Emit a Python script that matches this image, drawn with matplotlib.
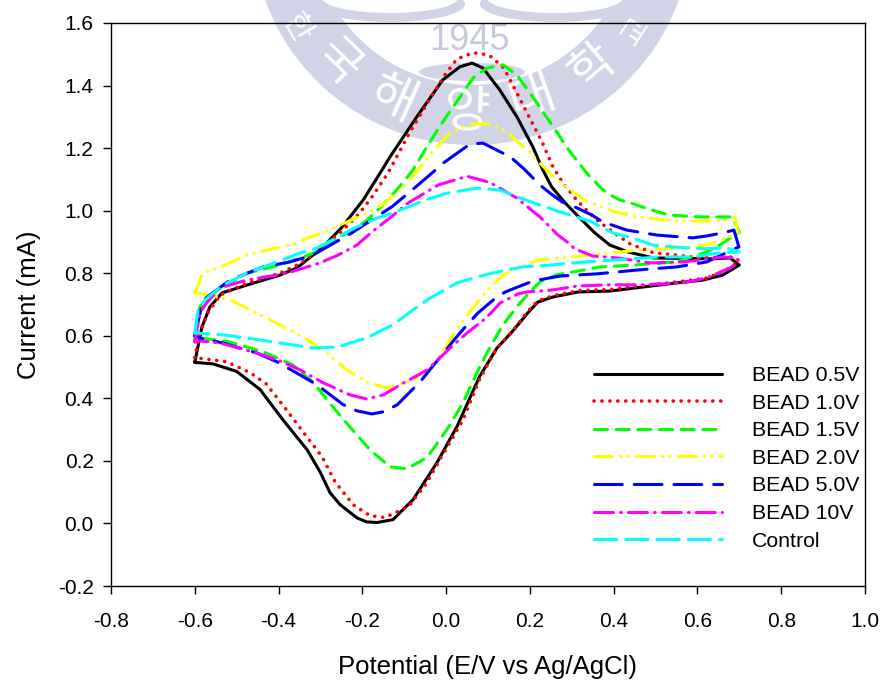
import numpy as np
import matplotlib.pyplot as plt
from matplotlib.patches import Circle, Ellipse

plt.rcParams["font.family"] = ["Liberation Sans", "DejaVu Sans"]
plt.rcParams["lines.scale_dashes"] = False

# Cyclic voltammograms, forward branch then return branch
bead_05_x = [-0.6, -0.583, -0.564, -0.535, -0.476, -0.397, -0.356, -0.294, -0.25, -0.198, -0.153, -0.134, -0.07, -0.008, 0.033, 0.062, 0.088, 0.128, 0.169, 0.207, 0.231, 0.252, 0.284, 0.319, 0.355, 0.391, 0.434, 0.494, 0.63, 0.678, 0.7,
             0.66, 0.613, 0.55, 0.47, 0.391, 0.315, 0.255, 0.219, 0.195, 0.157, 0.121, 0.08, 0.026, -0.022, -0.079, -0.127, -0.165, -0.19, -0.213, -0.253, -0.277, -0.301, -0.332, -0.39, -0.444, -0.5, -0.556, -0.6]
bead_05_y = [0.515, 0.628, 0.692, 0.737, 0.762, 0.794, 0.817, 0.884, 0.945, 1.034, 1.13, 1.172, 1.30, 1.418, 1.46, 1.472, 1.456, 1.386, 1.30, 1.204, 1.13, 1.076, 1.025, 0.977, 0.929, 0.89, 0.868, 0.849, 0.846, 0.849, 0.826,
             0.794, 0.778, 0.769, 0.756, 0.743, 0.74, 0.724, 0.708, 0.673, 0.612, 0.56, 0.47, 0.31, 0.194, 0.076, 0.012, 0.003, 0.005, 0.018, 0.06, 0.098, 0.165, 0.236, 0.332, 0.428, 0.486, 0.51, 0.515]

bead_10_x = [-0.6, -0.59, -0.57, -0.54, -0.476, -0.397, -0.356, -0.318, -0.246, -0.208, -0.177, -0.15, -0.139, -0.086, -0.05, -0.003, 0.026, 0.064, 0.102, 0.138, 0.169, 0.198, 0.229, 0.255, 0.279, 0.31, 0.327, 0.363, 0.401, 0.439, 0.458, 0.496, 0.55, 0.606, 0.684, 0.7,
             0.678, 0.625, 0.55, 0.47, 0.391, 0.315, 0.255, 0.219, 0.195, 0.157, 0.121, 0.08, 0.04, -0.015, -0.046, -0.09, -0.146, -0.182, -0.222, -0.265, -0.296, -0.34, -0.385, -0.43, -0.468, -0.524, -0.6]
bead_10_y = [0.53, 0.6, 0.67, 0.73, 0.768, 0.80, 0.826, 0.858, 0.938, 0.99, 1.044, 1.098, 1.12, 1.252, 1.332, 1.434, 1.485, 1.505, 1.498, 1.456, 1.376, 1.30, 1.22, 1.14, 1.088, 1.037, 1.012, 0.967, 0.929, 0.894, 0.884, 0.865, 0.858, 0.849, 0.852, 0.84,
             0.817, 0.785, 0.772, 0.76, 0.748, 0.744, 0.728, 0.712, 0.678, 0.612, 0.56, 0.462, 0.33, 0.204, 0.13, 0.054, 0.019, 0.025, 0.06, 0.133, 0.213, 0.29, 0.37, 0.447, 0.482, 0.517, 0.53]

bead_15_x = [-0.6, -0.588, -0.556, -0.476, -0.397, -0.308, -0.194, -0.163, -0.118, -0.079, -0.046, -0.01, 0.033, 0.064, 0.098, 0.136, 0.169, 0.207, 0.248, 0.296, 0.336, 0.367, 0.384, 0.415, 0.434, 0.468, 0.506, 0.533, 0.606, 0.684, 0.7,
             0.653, 0.622, 0.55, 0.446, 0.367, 0.303, 0.264, 0.224, 0.2, 0.172, 0.136, 0.105, 0.08, 0.04, 0.002, -0.046, -0.094, -0.134, -0.182, -0.23, -0.27, -0.318, -0.366, -0.437, -0.516, -0.6]
bead_15_y = [0.59, 0.692, 0.737, 0.8, 0.826, 0.868, 0.964, 1.002, 1.066, 1.13, 1.204, 1.28, 1.363, 1.424, 1.456, 1.466, 1.434, 1.363, 1.283, 1.188, 1.12, 1.076, 1.056, 1.034, 1.028, 1.012, 0.996, 0.986, 0.98, 0.98, 0.932,
             0.89, 0.868, 0.836, 0.826, 0.82, 0.804, 0.795, 0.772, 0.74, 0.698, 0.635, 0.564, 0.5, 0.385, 0.3, 0.21, 0.175, 0.181, 0.236, 0.309, 0.372, 0.452, 0.507, 0.549, 0.58, 0.596]

bead_20_x = [-0.6, -0.583, -0.568, -0.528, -0.476, -0.428, -0.365, -0.33, -0.285, -0.249, -0.186, -0.146, -0.115, -0.086, -0.039, 0.009, 0.057, 0.105, 0.145, 0.2, 0.24, 0.26, 0.303, 0.338, 0.36, 0.403, 0.458, 0.503, 0.565, 0.622, 0.67, 0.689, 0.697,
             0.684, 0.66, 0.622, 0.565, 0.47, 0.391, 0.296, 0.219, 0.141, 0.105, 0.069, 0.038, 0.009, -0.031, -0.079, -0.139, -0.19, -0.237, -0.285, -0.337, -0.397, -0.452, -0.516, -0.568, -0.6]
bead_20_y = [0.737, 0.794, 0.807, 0.826, 0.858, 0.874, 0.893, 0.913, 0.935, 0.957, 0.993, 1.025, 1.06, 1.098, 1.178, 1.248, 1.277, 1.277, 1.252, 1.185, 1.13, 1.104, 1.06, 1.028, 1.018, 0.996, 0.98, 0.973, 0.967, 0.967, 0.97, 0.98, 0.932,
             0.922, 0.906, 0.89, 0.881, 0.875, 0.865, 0.852, 0.842, 0.798, 0.756, 0.698, 0.644, 0.586, 0.5, 0.459, 0.433, 0.452, 0.491, 0.545, 0.593, 0.635, 0.673, 0.715, 0.73, 0.737]

bead_50_x = [-0.6, -0.58, -0.516, -0.437, -0.373, -0.318, -0.225, -0.13, -0.09, -0.034, -0.007, 0.057, 0.088, 0.153, 0.184, 0.224, 0.248, 0.277, 0.312, 0.348, 0.374, 0.431, 0.503, 0.589, 0.622, 0.66, 0.687, 0.699,
             0.622, 0.55, 0.463, 0.36, 0.272, 0.207, 0.141, 0.112, 0.076, 0.05, 0.021, -0.062, -0.117, -0.15, -0.177, -0.213, -0.246, -0.308, -0.349, -0.404, -0.452, -0.533, -0.588, -0.6]
bead_50_y = [0.6, 0.714, 0.778, 0.82, 0.836, 0.858, 0.929, 1.012, 1.056, 1.12, 1.152, 1.213, 1.216, 1.172, 1.136, 1.082, 1.056, 1.028, 1.009, 0.986, 0.964, 0.938, 0.922, 0.913, 0.919, 0.929, 0.938, 0.884,
             0.836, 0.82, 0.811, 0.798, 0.791, 0.775, 0.74, 0.714, 0.673, 0.635, 0.59, 0.453, 0.379, 0.357, 0.35, 0.36, 0.38, 0.443, 0.475, 0.517, 0.545, 0.577, 0.593, 0.6]

bead_100_x = [-0.6, -0.588, -0.572, -0.54, -0.476, -0.38, -0.301, -0.258, -0.213, -0.177, -0.134, -0.09, -0.019, 0.05, 0.105, 0.169, 0.224, 0.267, 0.289, 0.307, 0.35, 0.408, 0.487, 0.565, 0.606, 0.66, 0.694, 0.697,
              0.678, 0.622, 0.565, 0.47, 0.391, 0.312, 0.253, 0.193, 0.172, 0.129, 0.112, 0.093, 0.05, 0.009, -0.046, -0.11, -0.15, -0.19, -0.229, -0.294, -0.349, -0.397, -0.452, -0.54, -0.6]
bead_100_y = [0.58, 0.673, 0.705, 0.753, 0.778, 0.8, 0.833, 0.858, 0.89, 0.932, 0.977, 1.025, 1.082, 1.11, 1.09, 1.04, 0.98, 0.922, 0.9, 0.878, 0.855, 0.849, 0.833, 0.836, 0.842, 0.852, 0.849, 0.836,
              0.817, 0.785, 0.769, 0.763, 0.763, 0.759, 0.746, 0.74, 0.734, 0.705, 0.68, 0.654, 0.609, 0.56, 0.49, 0.443, 0.411, 0.398, 0.411, 0.45, 0.491, 0.52, 0.545, 0.577, 0.585]

control_x = [-0.6, -0.592, -0.575, -0.533, -0.476, -0.404, -0.356, -0.308, -0.285, -0.218, -0.163, -0.141, -0.09, -0.05, 0.002, 0.074, 0.128, 0.19, 0.224, 0.272, 0.296, 0.348, 0.398, 0.444, 0.494, 0.541, 0.613, 0.67, 0.7,
             0.653, 0.589, 0.51, 0.375, 0.303, 0.248, 0.181, 0.109, 0.074, 0.026, -0.039, -0.079, -0.127, -0.19, -0.26, -0.318, -0.397, -0.476, -0.533, -0.6]
control_y = [0.609, 0.683, 0.715, 0.762, 0.8, 0.836, 0.861, 0.881, 0.897, 0.945, 0.977, 0.986, 1.012, 1.034, 1.056, 1.072, 1.066, 1.034, 1.018, 0.996, 0.986, 0.964, 0.929, 0.913, 0.89, 0.884, 0.878, 0.881, 0.868,
             0.865, 0.852, 0.852, 0.84, 0.833, 0.826, 0.82, 0.8, 0.788, 0.769, 0.72, 0.683, 0.635, 0.593, 0.564, 0.561, 0.577, 0.593, 0.603, 0.609]

labels = ["BEAD 0.5V", "BEAD 1.0V", "BEAD 1.5V", "BEAD 2.0V", "BEAD 5.0V", "BEAD 10V", "Control"]
colors = ["black", "red", "#00ff00", "#ffff00", "#0000ff", "#ff00ff", "#00ffff"]
xs = [bead_05_x, bead_10_x, bead_15_x, bead_20_x, bead_50_x, bead_100_x, control_x]
ys = [bead_05_y, bead_10_y, bead_15_y, bead_20_y, bead_50_y, bead_100_y, control_y]
widths = [2.2, 2.6, 2.2, 2.2, 2.2, 2.2, 2.2]
styles = [
    "-",
    (0, (0.1, 5.6)),
    (0, (9.4, 6.2)),
    (0, (13, 5.8, 0.3, 5, 0.3, 5.8)),
    (0, (20, 8.6)),
    (0, (13.7, 5, 0.7, 5)),
    (0, (16, 6.5)),
]

xticks = [-0.8, -0.6, -0.4, -0.2, 0.0, 0.2, 0.4, 0.6, 0.8, 1.0]
yticks = [-0.2, 0.0, 0.2, 0.4, 0.6, 0.8, 1.0, 1.2, 1.4, 1.6]

seal_chars = list("한국해양대학교")

W, H = 884, 681
fig = plt.figure(figsize=(W / 100, H / 100), dpi=100)

# Faint university seal behind the chart, drawn in pixel coordinates
seal = "#d0d4e6"
bg = fig.add_axes([0, 0, 1, 1], zorder=0)
bg.set_xlim(0, W)
bg.set_ylim(H, 0)
bg.axis("off")
cx, cy = 472, -75
bg.add_patch(Circle((cx, cy), 220, fc=seal, ec="none"))
bg.add_patch(Circle((cx, cy), 160, fc="white", ec="none"))
bg.add_patch(Ellipse((390, 4), 150, 36, fc=seal, ec="none"))
bg.add_patch(Ellipse((555, 4), 150, 36, fc=seal, ec="none"))
bg.add_patch(Ellipse((390, -2), 136, 30, fc="white", ec="none"))
bg.add_patch(Ellipse((555, -2), 136, 30, fc="white", ec="none"))
bg.text(469, 40, "1945", color="#c4c9df", fontsize=26, ha="center", va="center")
bg.add_patch(Ellipse((472, 72), 106, 18, fc=seal, ec="none"))
for ch, px, py, size in zip(seal_chars, [297, 337, 393, 467, 533, 593, 636], [28, 63, 100, 113, 97, 67, 32], [22, 34, 36, 36, 36, 34, 22]):
    rot = np.degrees(np.arctan2(px - cx, py - cy))
    bg.text(px, py, ch, color="white", fontsize=size, rotation=rot, ha="center", va="center",
            family=["Noto Sans CJK KR", "DejaVu Sans"])

ax = fig.add_axes([111 / W, 1 - 586 / H, 754 / W, 563 / H], zorder=1)
ax.patch.set_alpha(0)

for x, y, c, ls, lw, lab in zip(xs, ys, colors, styles, widths, labels):
    line, = ax.plot(x, y, color=c, linestyle=ls, linewidth=lw, label=lab)
    line.set_dash_capstyle("round")
    line.set_solid_capstyle("round")
    line.set_dash_joinstyle("round")
    line.set_solid_joinstyle("round")

ax.set_xlim(-0.8, 1.0)
ax.set_ylim(-0.2, 1.6)
ax.set_xticks(xticks)
ax.set_yticks(yticks)
ax.set_xticklabels([f"{t:.1f}" for t in xticks])
ax.set_yticklabels([f"{t:.1f}" for t in yticks])
ax.tick_params(direction="out", length=5.5, width=1, labelsize=15)
ax.tick_params(axis="x", pad=13)
ax.tick_params(axis="y", pad=7)
for spine in ax.spines.values():
    spine.set_linewidth(1)
ax.set_xlabel("Potential (E/V vs Ag/AgCl)", fontsize=18.5, labelpad=17.5)
ax.set_ylabel("Current (mA)", fontsize=18.5, labelpad=12)

ax.legend(
    loc="upper left",
    bbox_to_anchor=(0.6406, 0.3907),
    frameon=False,
    fontsize=15.3,
    handlelength=6.03,
    handletextpad=1.41,
    labelspacing=0.405,
    borderpad=0,
    borderaxespad=0,
)

fig.savefig("out.png", dpi=100)
